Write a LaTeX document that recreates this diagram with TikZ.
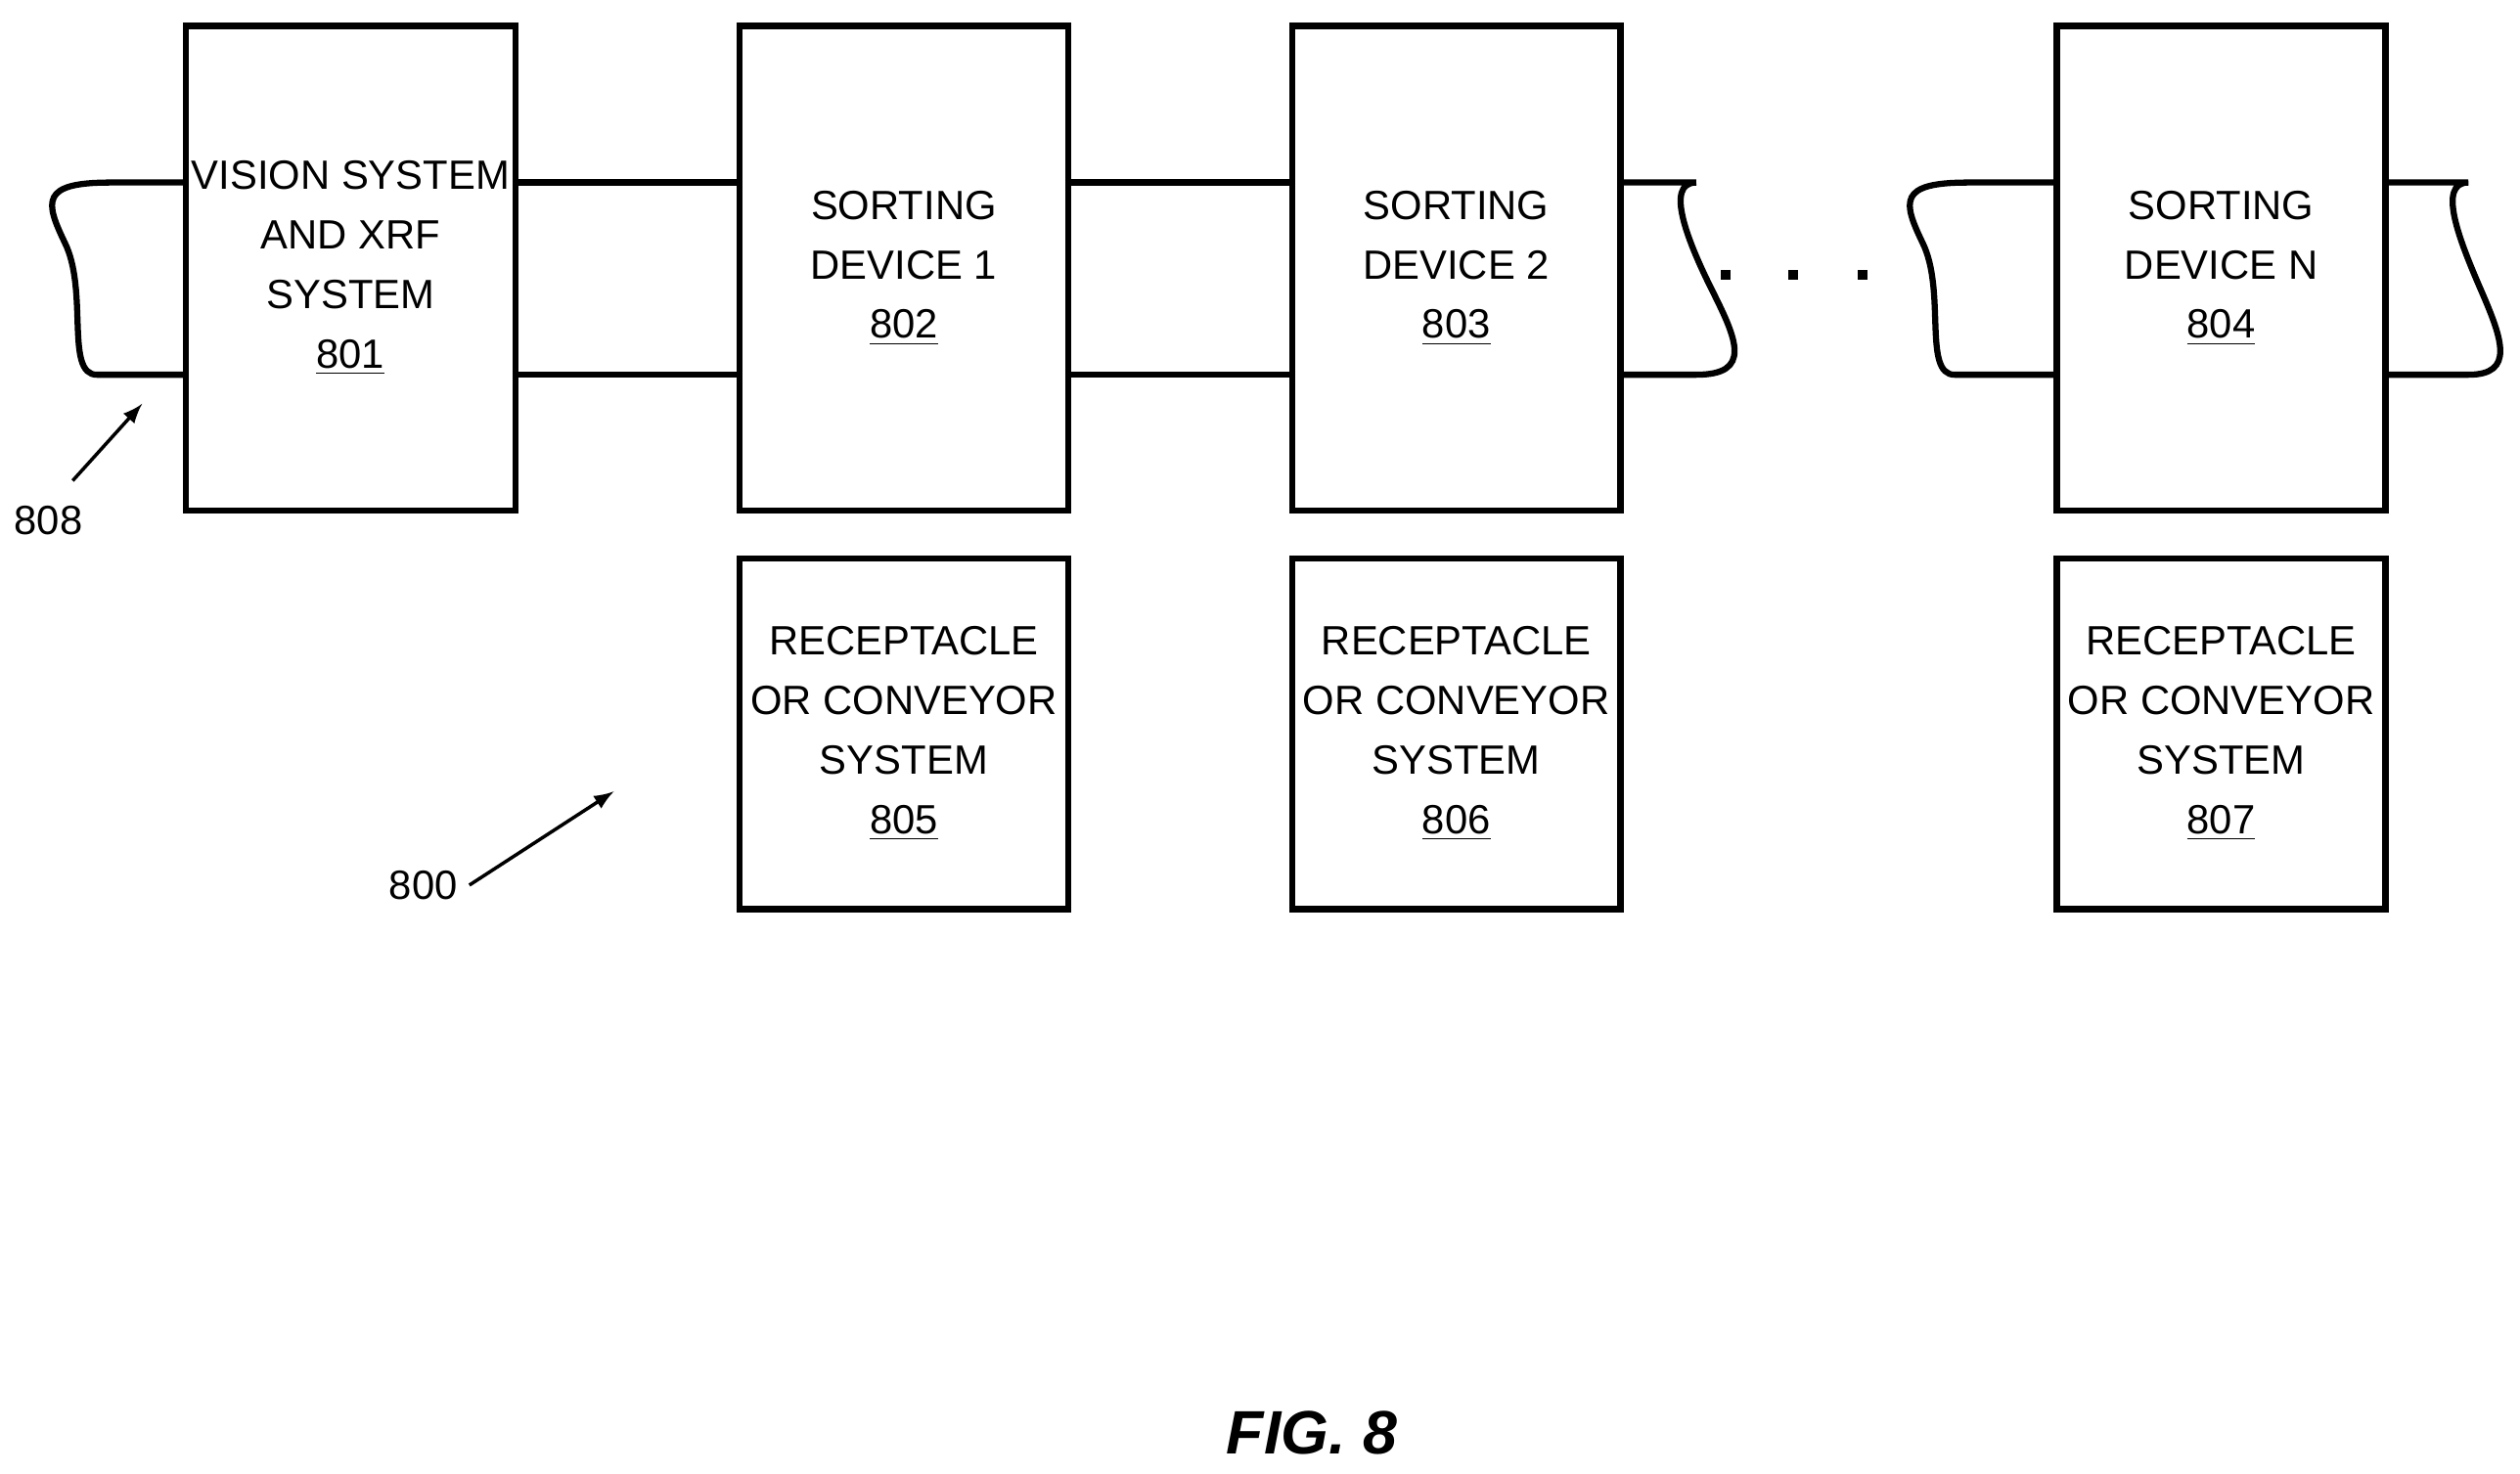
\documentclass[tikz,border=0pt]{standalone}
\usepackage{fontspec}
\setmainfont{Liberation Sans}
\usetikzlibrary{positioning}
\tikzset{%
	sort box/.style={
		rectangle,
		draw=black,
		line width=1.8pt,
		align=center,
		inner sep=0pt,
		font=\fontsize{12}{17.5}\selectfont
	},
	belt/.style={line width=1.8pt},
	ref label/.style={font=\fontsize{12}{15}\selectfont},
}
\begin{document}
\begin{tikzpicture}[x=1cm/60,y=-1cm/60]
		\useasboundingbox (0,0) rectangle (1560,912.6);
		% Boxes
		\node[sort box, minimum width=3.40cm, minimum height=5.0cm] (vision) at (217,166) {VISION SYSTEM\\AND XRF\\SYSTEM\\\underline{801}};
		\foreach \n/\x/\t in {802/559.5/1, 803/901.5/2, 804/1375/N}
		\node[sort box, minimum width=3.39cm, minimum height=5.0cm] (sort-\n) at (\x,166) {SORTING\\DEVICE \t\\\underline{\n}};
		\foreach \n/\m in {802/805, 803/806, 804/807}
		\node[sort box, minimum width=3.39cm, minimum height=3.62cm, below=0.43cm of sort-\n] (recept-\m) {RECEPTACLE\\OR CONVEYOR\\SYSTEM\\\underline{\m}};
		
		% Conveyor
		\foreach \y in {113,232} {
			\draw[belt] (vision.east |- 0,\y) -- (sort-802.west |- 0,\y);
			\draw[belt] (sort-802.east |- 0,\y) -- (sort-803.west |- 0,\y);
		}
		\draw[belt] (vision.west |- 0,232) -- (60,232) .. controls (40,232) and (55,180) .. (40,150) .. controls (28,125) and (25,113) .. (68,113) -- (vision.west |- 0,113);
		\draw[belt] (sort-803.east |- 0,113) -- (1050,113) .. controls (1030,113) and (1045,150) .. (1060,180) .. controls (1075,210) and (1085,232) .. (1050,232) -- (sort-803.east |- 0,232);
		\draw[belt] (sort-804.west |- 0,232) -- (1210,232) .. controls (1190,232) and (1205,180) .. (1190,150) .. controls (1178,125) and (1175,113) .. (1218,113) -- (sort-804.west |- 0,113);
		\draw[belt] (sort-804.east |- 0,113) -- (1528,113) .. controls (1508,113) and (1523,150) .. (1536,180) .. controls (1549,210) and (1557,232) .. (1528,232) -- (sort-804.east |- 0,232);
		\foreach \x in {1068,1110,1153}
		\fill (\x-3,167) rectangle (\x+3,173);
		
		% Labels
		\node[ref label] (lbl-808) at (30,322) {808};
		\draw[line width=1pt, -latex] (lbl-808.north) ++(15,-8) -- (88,250);
		\node[ref label] (lbl-800) at (262,548) {800};
		\draw[line width=1pt, -latex] (lbl-800.east) -- (380,490);
		\node[font=\fontsize{18}{22}\selectfont\bfseries\itshape] (fig) at (812,887) {FIG. 8};
\end{tikzpicture}
\end{document}
